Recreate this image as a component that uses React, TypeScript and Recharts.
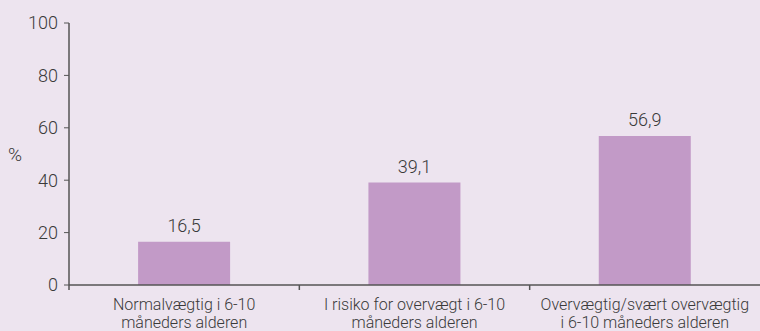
import React from 'react';
import { BarChart, Bar, XAxis, YAxis, LabelList } from 'recharts';

const CATEGORIES = [
  ['Normalvægtig i 6-10', 'måneders alderen'],
  ['I risiko for overvægt i 6-10', 'måneders alderen'],
  ['Overvægtig/svært overvægtig', 'i 6-10 måneders alderen'],
];
const VALUES = [16.5, 39.1, 56.9];
const Y_TICKS = [0, 20, 40, 60, 80, 100];

const data = CATEGORIES.map((lines, i) => ({ name: lines.join(' '), lines, value: VALUES[i] }));

const FONT = 'Roboto, "Liberation Sans", sans-serif';
const TEXT = '#3a3a3a';
const AXIS = '#555';

// category label in two lines, plus a tick mark at the left edge of each band
const CategoryTick = (props: any) => {
  const { x, y, payload, index, width } = props;
  const lines = data[index]?.lines ?? [payload.value];
  const step = (width || 0) / data.length;
  const bx = x - step / 2;
  return (
    <g>
      <line x1={bx} x2={bx} y1={y} y2={y + 5} stroke={AXIS} strokeWidth={1.5} />
      <text x={x} y={y} textAnchor="middle" fontFamily={FONT} fontWeight={300} fontSize={16} fill={TEXT}>
        {lines.map((l: string, i: number) => (
          <tspan key={i} x={x} dy={i === 0 ? 25 : 18}>{l}</tspan>
        ))}
      </text>
    </g>
  );
};

const PercentLabel = (props: any) => {
  const vb = props.viewBox || { x: 0, y: 0, height: 0 };
  return (
    <text x={8} y={vb.y + vb.height / 2 + 7} fontFamily={FONT} fontWeight={300} fontSize={19} fill={TEXT}>%</text>
  );
};

const App: React.FC = () => {
  return (
    <div style={{ position: 'absolute', left: 0, top: 0, width: 760, height: 331, background: '#ede4ef' }}>
      <BarChart width={760} height={331} data={data} margin={{ top: 23, right: 0, bottom: 0, left: 0 }} barCategoryGap="30%">
        <YAxis
          domain={[0, 100]}
          ticks={Y_TICKS}
          width={69}
          tickSize={5}
          tickMargin={6}
          stroke={AXIS}
          tick={{ fill: TEXT, fontSize: 18, fontFamily: FONT, fontWeight: 300 }}
          tickLine={{ stroke: AXIS }}
          axisLine={{ stroke: AXIS, strokeWidth: 1.5 }}
          label={{ content: PercentLabel }}
        />
        <XAxis
          dataKey="name"
          height={46}
          interval={0}
          tickSize={0}
          tickMargin={0}
          tickLine={false}
          axisLine={{ stroke: AXIS, strokeWidth: 1.5 }}
          tick={<CategoryTick />}
        />
        <Bar dataKey="value" fill="#c29ac7" isAnimationActive={false}>
          <LabelList
            dataKey="value"
            position="top"
            offset={10}
            formatter={(v: any) => String(v).replace('.', ',')}
            style={{ fill: TEXT, fontSize: 18, fontFamily: FONT, fontWeight: 300 }}
          />
        </Bar>
      </BarChart>
    </div>
  );
};

export default App;
